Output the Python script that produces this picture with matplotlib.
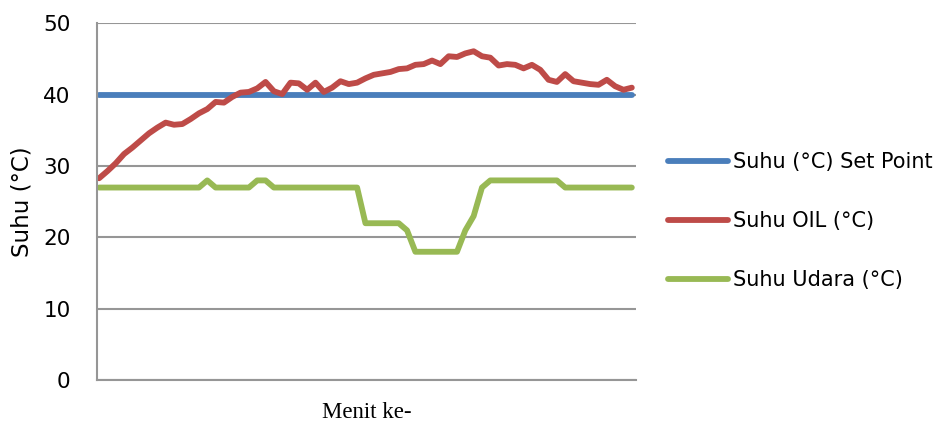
import matplotlib.pyplot as plt
import numpy as np

# data suhu per menit
menit = np.arange(65)
set_point = [40] * 65
suhu_oil = [28.3, 29.3, 30.4, 31.7, 32.6, 33.6, 34.6, 35.4, 36.1, 35.8,
            35.9, 36.6, 37.4, 38.0, 39.0, 38.9, 39.7, 40.3, 40.4, 40.9,
            41.8, 40.5, 40.1, 41.7, 41.6, 40.7, 41.7, 40.4, 41.0, 41.9,
            41.5, 41.7, 42.3, 42.8, 43.0, 43.2, 43.6, 43.7, 44.2, 44.3,
            44.8, 44.3, 45.4, 45.3, 45.8, 46.1, 45.4, 45.2, 44.1, 44.3,
            44.2, 43.7, 44.2, 43.5, 42.1, 41.8, 42.9, 41.9, 41.7, 41.5,
            41.4, 42.1, 41.2, 40.7, 41.0]
suhu_udara = [27] * 13 + [28] + [27] * 5 + [28, 28] + [27] * 11 + [22] * 5 + \
             [21] + [18] * 6 + [21, 23, 27] + [28] * 9 + [27] * 9

fig = plt.figure(figsize=(9.38, 4.26), dpi=100)
ax = fig.add_axes([0.1034, 0.1075, 0.5746, 0.8375])

ax.plot(menit, set_point, color='#4A7EBB', lw=4.2, solid_capstyle='round', label='Suhu (°C) Set Point')
ax.plot(menit, suhu_oil, color='#BE4B48', lw=4.2, solid_capstyle='round', label='Suhu OIL (°C)')
ax.plot(menit, suhu_udara, color='#98B954', lw=4.2, solid_capstyle='round', label='Suhu Udara (°C)')

ax.set_xlim(-0.25, 64.5)
ax.set_ylim(0, 50)
ax.set_yticks(range(0, 51, 10))
ax.set_xticks([])
ax.yaxis.grid(True, color='#969696', lw=1.5)
ax.set_axisbelow(True)
for s in ['top', 'right']:
    ax.spines[s].set_visible(False)
for s in ['left', 'bottom']:
    ax.spines[s].set_color('#969696')
    ax.spines[s].set_linewidth(1.5)
ax.tick_params(axis='y', length=0, pad=19, labelsize=15.5)

ax.set_ylabel('Suhu (°C)', fontsize=16.5, labelpad=7)
ax.set_xlabel('Menit ke-', fontsize=16.5, family='Liberation Serif', labelpad=16)

leg = ax.legend(loc='center left', bbox_to_anchor=(668 / 938, 1 - 221 / 426),
                bbox_transform=fig.transFigure, frameon=False, borderpad=0,
                borderaxespad=0, fontsize=15, handlelength=2.9,
                handletextpad=0.24, labelspacing=1.88)

plt.savefig('out.png', dpi=100)
